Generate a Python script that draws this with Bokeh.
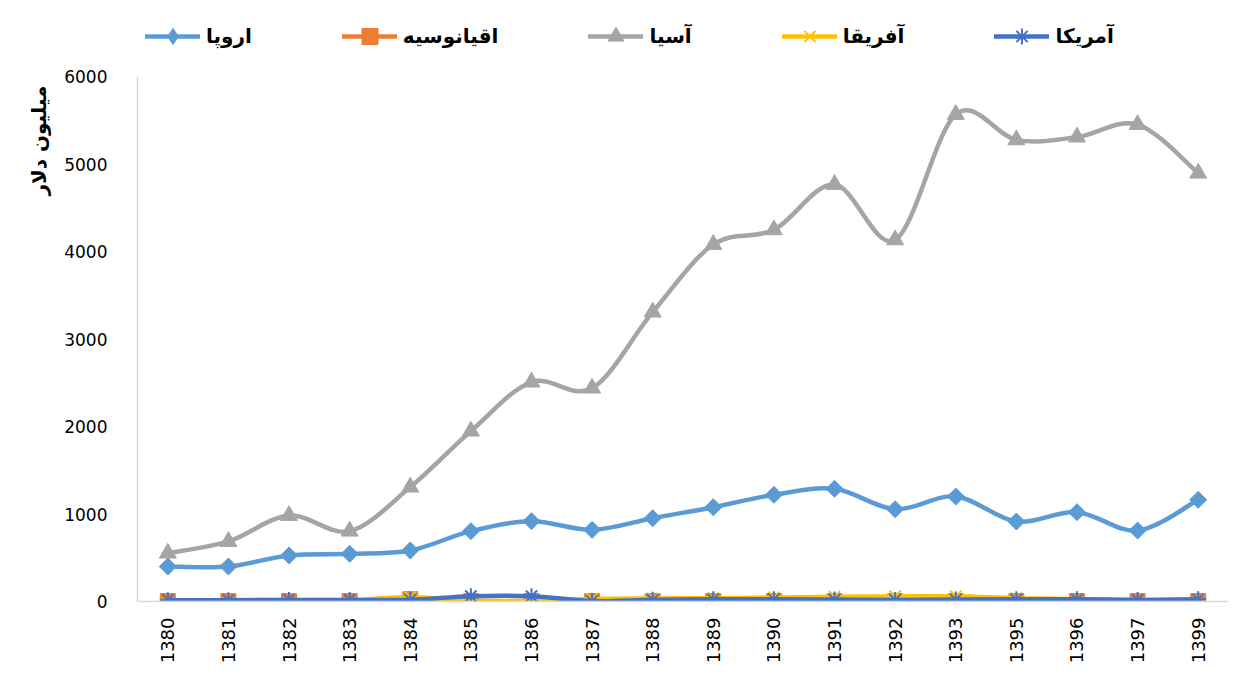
import math
from bokeh.plotting import figure
from bokeh.models import (Range1d, FixedTicker, Legend, LegendItem, Title, ColumnDataSource)
from bokeh.embed import file_html
from bokeh.resources import INLINE

years = ["1380", "1381", "1382", "1383", "1384", "1385", "1386", "1387", "1388",
         "1389", "1390", "1391", "1392", "1393", "1395", "1396", "1397", "1399"]

europe = [400, 400, 526, 545, 583, 804, 918, 819, 952, 1078, 1219, 1288, 1055, 1200, 914, 1021, 811, 1162]
oceania = [5, 5, 5, 5, 27, 5, 5, 5, 5, 5, 5, 5, 5, 5, 5, 5, 5, 5]
asia = [552, 686, 983, 804, 1307, 1947, 2507, 2438, 3307, 4080, 4248, 4766, 4133, 5566, 5276, 5307, 5451, 4895]
africa = [10, 10, 10, 12, 50, 8, 8, 30, 35, 38, 46, 55, 58, 60, 38, 30, 19, 27]
america = [15, 15, 18, 18, 20, 61, 61, 5, 19, 25, 25, 22, 18, 22, 25, 25, 18, 25]

series_names = ["اروپا", "اقیانوسیه", "آسیا", "آفریقا", "آمریکا"]
series_values = [europe, oceania, asia, africa, america]
colors = ["#5B9BD5", "#ED7D31", "#A5A5A5", "#FFC000", "#4472C4"]
markers = ["square", "square", "triangle", "x", "asterisk"]
marker_sizes = [12, 15, 17, 16, 16]
marker_angles = [math.pi / 4, 0, 0, 0, 0]

W, H = 1228, 672
FRAME_TOP_PAD = 76      # px between canvas top and the 6000 tick
FRAME_BOTTOM = 601      # px of the 0 baseline
y_top = 6000 * FRAME_BOTTOM / (FRAME_BOTTOM - FRAME_TOP_PAD)

p = figure(width=W, height=H, output_backend="svg", toolbar_location=None,
           x_range=Range1d(-0.5, len(years) - 0.5), y_range=Range1d(0, y_top),
           min_border_left=137, min_border_right=0, min_border_top=0,
           min_border_bottom=H - FRAME_BOTTOM)
p.outline_line_color = None
p.xgrid.visible = False
p.ygrid.visible = False
p.background_fill_color = "white"
p.border_fill_color = "white"

xs = list(range(len(years)))


def bezier_source(vals):
    n = len(vals)
    d = dict(x0=[], y0=[], x1=[], y1=[], cx0=[], cy0=[], cx1=[], cy1=[])
    for i in range(n - 1):
        xm1, ym1 = (xs[i - 1], vals[i - 1]) if i > 0 else (xs[i], vals[i])
        x2, y2 = (xs[i + 2], vals[i + 2]) if i + 2 < n else (xs[i + 1], vals[i + 1])
        xa, ya = xs[i], vals[i]
        xb, yb = xs[i + 1], vals[i + 1]
        d["x0"].append(xa); d["y0"].append(ya)
        d["x1"].append(xb); d["y1"].append(yb)
        d["cx0"].append(xa + (xb - xm1) / 6.0); d["cy0"].append(ya + (yb - ym1) / 6.0)
        d["cx1"].append(xb - (x2 - xa) / 6.0); d["cy1"].append(yb - (y2 - ya) / 6.0)
    return ColumnDataSource(d)


items = []
for name, vals, col, mk, ms, ang in zip(series_names, series_values, colors, markers, marker_sizes, marker_angles):
    br = p.bezier(x0="x0", y0="y0", x1="x1", y1="y1", cx0="cx0", cy0="cy0", cx1="cx1", cy1="cy1",
                  source=bezier_source(vals), line_color=col, line_width=4.5, line_cap="round")
    sr = p.scatter(x=xs, y=vals, marker=mk, size=ms, angle=ang, fill_color=col,
                   line_color=col, line_width=2 if mk in ("x", "asterisk") else 1)
    if mk == "square" and ang != 0:
        proxy = p.scatter(x=xs, y=vals, marker="diamond", fill_color=col, line_color=col, visible=False)
        items.append(LegendItem(label=name, renderers=[br, proxy]))
    else:
        items.append(LegendItem(label=name, renderers=[br, sr]))

legend = Legend(items=items, orientation="horizontal", location=(8, 545),
                glyph_width=55, glyph_height=40, label_standoff=6, spacing=90,
                padding=0, margin=0, border_line_color=None, background_fill_alpha=0,
                inactive_fill_alpha=0,
                label_text_font="DejaVu Sans", label_text_font_size="20px",
                label_text_font_style="bold", label_text_color="black")
p.add_layout(legend, "center")

# y axis
p.yaxis.ticker = FixedTicker(ticks=[0, 1000, 2000, 3000, 4000, 5000, 6000])
p.yaxis.bounds = (0, 6000)
p.yaxis.major_tick_line_color = None
p.yaxis.minor_tick_line_color = None
p.yaxis.axis_line_color = "#D9D9D9"
p.yaxis.axis_line_width = 1.5
p.yaxis.major_label_text_font = "DejaVu Sans"
p.yaxis.major_label_text_font_size = "17px"
p.yaxis.major_label_text_color = "black"
p.yaxis.major_label_standoff = 24

# x axis
p.xaxis.ticker = FixedTicker(ticks=xs)
p.xaxis.major_label_overrides = {i: y for i, y in enumerate(years)}
p.xaxis.major_label_orientation = math.pi / 2
p.xaxis.major_tick_line_color = None
p.xaxis.minor_tick_line_color = None
p.xaxis.axis_line_color = "#D9D9D9"
p.xaxis.axis_line_width = 1.5
p.xaxis.major_label_text_font = "DejaVu Sans"
p.xaxis.major_label_text_font_size = "18px"
p.xaxis.major_label_text_color = "black"
p.xaxis.major_label_standoff = 10

ytitle = Title(text="میلیون دلار", align="right", offset=85, standoff=22,
               text_font="DejaVu Sans", text_font_size="20px", text_font_style="bold",
               text_color="black")
p.add_layout(ytitle, "left")

open("out.html", "w").write(file_html(p, INLINE))
